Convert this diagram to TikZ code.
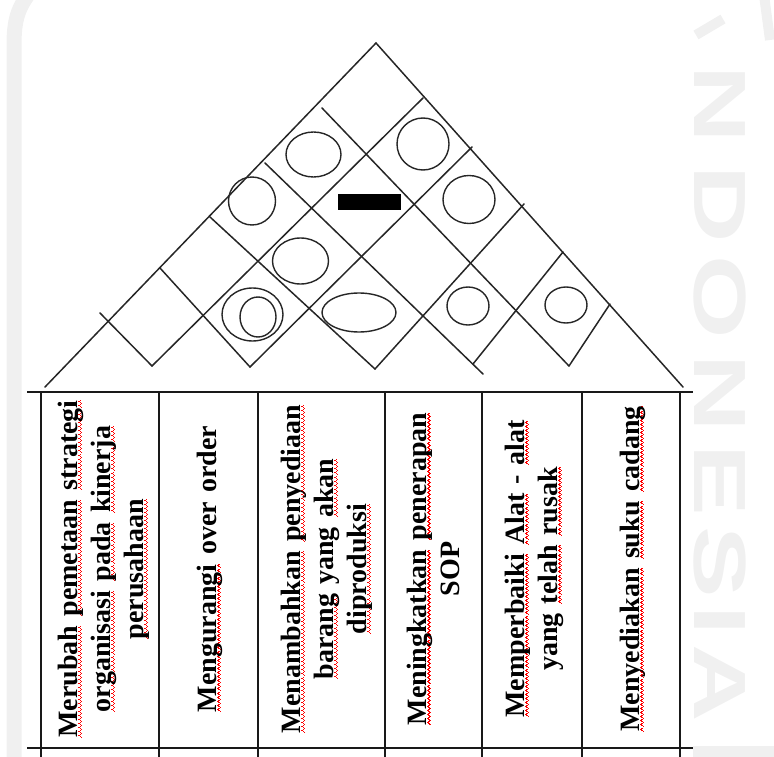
\documentclass[tikz,border=0pt]{standalone}
\usepackage{fontspec}
\setmainfont{Liberation Serif}
\newfontfamily\wmfont{Liberation Sans}
\newcommand{\sqmark}{\hbox to 4pt{\rule[-4.8pt]{1pt}{1.4pt}\rule[-3.7pt]{1pt}{1.4pt}\rule[-2.6pt]{1pt}{1.4pt}\rule[-3.7pt]{1pt}{1.4pt}\hss}}
\newcommand{\sq}[1]{\leavevmode\setbox0\hbox{#1}\rlap{\hbox to \wd0{\color{red}\xleaders\sqmark\hfill}}\box0\relax}
\tikzset{
  gridline/.style={draw=black!85, line width=1.5pt, line cap=round},
  sym/.style={draw=black!85, line width=1.4pt},
  tabline/.style={draw=black!90, line width=1.9pt},
  lbl/.style={rotate=90, align=center, text width=356pt, inner sep=0pt,
    font=\bfseries\fontsize{28}{33}\selectfont},
  wmletter/.style={text=black!6, font=\wmfont\bfseries\fontsize{74}{74}\selectfont,
    rotate=-90, xscale=1.45, inner sep=0pt},
  wmline/.style={draw=black!6, line width=15pt}
}
\begin{document}
\begin{tikzpicture}[x=1pt, y=-1pt]
\useasboundingbox (0,0) rectangle (774,757);
% watermark
\draw[wmline] (14,770) -- (14,45) .. controls (14,20) and (18,8) .. (30,-8);
\draw[black!6, line width=10pt] (696,35) -- (723,19);
\draw[black!6, line width=10pt] (770,40) -- (764,-5);
\fill[black!6] (693,746) rectangle (774,757);
\node[wmletter] (w1) at (719.5,104) {N};
\node[wmletter] (w2) at (719.5,204) {D};
\node[wmletter] (w3) at (719.5,297) {O};
\node[wmletter] (w4) at (719.5,393) {N};
\node[wmletter] (w5) at (719.5,480) {E};
\node[wmletter] (w6) at (719.5,562) {S};
\node[wmletter] (w7) at (719.5,620) {I};
\node[wmletter] (w8) at (719.5,683) {A};
% roof coordinates
\coordinate (A) at (376,43);
\coordinate (L) at (45,387);
\coordinate (R) at (683,387);
\coordinate (d1s) at (322,108); \coordinate (v5) at (569,366);
\coordinate (d2s) at (265,163); \coordinate (d2e) at (483,374); \coordinate (v4) at (473,364);
\coordinate (d3s) at (210,217); \coordinate (v3) at (375,369);
\coordinate (d4s) at (160,268); \coordinate (v2) at (250,367);
\coordinate (d5s) at (100,313); \coordinate (v1) at (152,366);
\coordinate (u1e) at (423,98);
\coordinate (u2e) at (472,147);
\coordinate (u3e) at (524,204);
\coordinate (u4e) at (563,252);
\coordinate (u5e) at (610,304);
\draw[gridline] (L) -- (A) -- (R);
\draw[gridline] (d1s) -- (v5);
\draw[gridline] (d2s) -- (d2e);
\draw[gridline] (d3s) -- (v3);
\draw[gridline] (d4s) -- (v2);
\draw[gridline] (d5s) -- (v1);
\draw[gridline] (v1) -- (u1e);
\draw[gridline] (v2) -- (u2e);
\draw[gridline] (v3) -- (u3e);
\draw[gridline] (v4) -- (u4e);
\draw[gridline] (v5) -- (u5e);
% symbols
\draw[sym] (313.5,154.5) ellipse [x radius=27.5pt, y radius=22.5pt];
\draw[sym] (423,144) ellipse [x radius=26pt, y radius=26pt];
\draw[sym] (252,201) ellipse [x radius=23.5pt, y radius=24pt];
\draw[sym] (469,199.5) ellipse [x radius=26pt, y radius=24pt];
\fill[black] (338,194) rectangle (401,210);
\draw[sym] (300.5,261) ellipse [x radius=28pt, y radius=23pt];
\draw[sym] (252.5,314.5) ellipse [x radius=30.5pt, y radius=26.5pt];
\draw[sym] (258,317) ellipse [x radius=18pt, y radius=20pt];
\draw[sym] (359,312.5) ellipse [x radius=37pt, y radius=19.5pt];
\draw[sym] (468,306) ellipse [x radius=21pt, y radius=19pt];
\draw[sym] (566,305) ellipse [x radius=21pt, y radius=18pt];
% table
\coordinate (t0) at (27,392); \coordinate (t1) at (693,392);
\coordinate (b0) at (27,748); \coordinate (b1) at (693,748);
\draw[tabline] (t0) -- (t1);
\draw[tabline] (b0) -- (b1);
\foreach \xx in {41,159,258,385,482,582,680}{
  \draw[tabline] (\xx,392) -- (\xx,757);
}
% labels
\node[lbl] (c1) at (103.5,569) {\sq{Merubah} \sq{pemetaan} \sq{strategi}\\ \sq{organisasi} \sq{pada} \sq{kinerja}\\ \sq{perusahaan}};
\node[lbl] (c2) at (209.5,569) {\sq{Mengurangi} over order};
\node[lbl] (c3) at (326.5,569) {\sq{Menambahkan} \sq{penyediaan}\\ \sq{barang} yang \sq{akan}\\ \sq{diproduksi}};
\node[lbl] (c4) at (433,569) {\sq{Meningkatkan} \sq{penerapan}\\ SOP};
\node[lbl] (c5) at (534,569) {\sq{Memperbaiki} \sq{Alat} - \sq{alat}\\ yang \sq{telah} \sq{rusak}};
\node[lbl] (c6) at (632.5,569) {\sq{Menyediakan} \sq{suku} \sq{cadang}};
\end{tikzpicture}
\end{document}
